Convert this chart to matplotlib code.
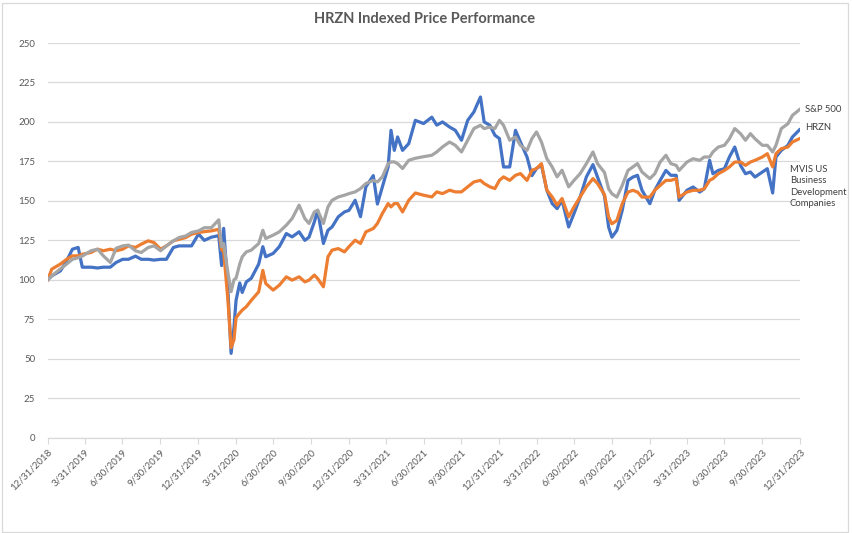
import matplotlib
matplotlib.use("Agg")
import matplotlib.pyplot as plt
from matplotlib.patches import Rectangle
import pandas as pd

plt.rcParams['font.family'] = ['Lato', 'DejaVu Sans']

# 数据：指数化价格（起点 = 100）
dates = [
    "2018-12-31", "2019-01-10", "2019-01-31", "2019-02-15", "2019-03-01", "2019-03-15",
    "2019-03-25", "2019-04-15", "2019-05-01", "2019-05-15", "2019-06-01", "2019-06-15",
    "2019-07-01", "2019-07-15", "2019-08-01", "2019-08-15", "2019-09-01", "2019-09-15",
    "2019-10-01", "2019-10-15", "2019-11-01", "2019-11-15", "2019-12-01", "2019-12-15",
    "2020-01-01", "2020-01-15", "2020-02-01", "2020-02-19", "2020-02-26", "2020-03-02",
    "2020-03-12", "2020-03-20", "2020-03-27", "2020-04-01", "2020-04-10", "2020-04-16",
    "2020-04-26", "2020-05-08", "2020-05-26", "2020-06-05", "2020-06-12", "2020-06-30",
    "2020-07-15", "2020-08-01", "2020-08-15", "2020-09-01", "2020-09-15", "2020-09-25",
    "2020-10-08", "2020-10-16", "2020-10-30", "2020-11-10", "2020-11-20", "2020-12-05",
    "2020-12-20", "2020-12-31", "2021-01-15", "2021-01-28", "2021-02-10", "2021-02-28",
    "2021-03-10", "2021-03-22", "2021-04-05", "2021-04-12", "2021-04-20", "2021-04-28",
    "2021-05-10", "2021-05-25", "2021-06-10", "2021-06-30", "2021-07-20", "2021-08-01",
    "2021-08-15", "2021-09-01", "2021-09-15", "2021-09-30", "2021-10-15", "2021-10-30",
    "2021-11-15", "2021-11-24", "2021-12-08", "2021-12-20", "2021-12-31", "2022-01-10",
    "2022-01-25", "2022-02-08", "2022-02-20", "2022-03-08", "2022-03-20", "2022-03-31",
    "2022-04-12", "2022-04-25", "2022-05-08", "2022-05-20", "2022-06-01", "2022-06-17",
    "2022-06-30", "2022-07-15", "2022-07-30", "2022-08-15", "2022-08-26", "2022-09-12",
    "2022-09-22", "2022-09-30", "2022-10-12", "2022-10-25", "2022-11-08", "2022-11-20",
    "2022-12-01", "2022-12-12", "2022-12-31", "2023-01-12", "2023-01-25", "2023-02-08",
    "2023-02-20", "2023-03-05", "2023-03-12", "2023-03-31", "2023-04-15", "2023-05-01",
    "2023-05-12", "2023-05-25", "2023-06-02", "2023-06-15", "2023-06-30", "2023-07-12",
    "2023-07-25", "2023-08-08", "2023-08-20", "2023-09-01", "2023-09-12", "2023-09-30",
    "2023-10-12", "2023-10-25", "2023-11-02", "2023-11-15", "2023-12-01", "2023-12-12",
    "2023-12-29",
]

hrzn = [
    100, 102.5, 105.7, 112, 119.4, 120.5,
    108, 108, 107.5, 108, 108, 111,
    113, 113, 115, 113, 113, 112.5,
    113, 113, 120.5, 121.5, 121.5, 121.5,
    129, 125, 127, 128, 109, 132.6,
    95, 53.4, 70, 87, 98, 92,
    98.7, 101, 110, 121, 114.6, 116.7,
    121, 129.3, 127.2, 130.4, 125, 127,
    136.7, 144, 123, 131.4, 133.5, 139.9,
    143, 144, 150.4, 140, 158.9, 166,
    148, 158.9, 171.5, 194.7, 182, 190.5,
    182, 186.3, 201, 199, 203, 198,
    200, 196.8, 194.7, 188.4, 201, 206.3,
    215.8, 200, 197.9, 191.6, 189.5, 171.5,
    171.5, 194.7, 187.3, 177.8, 166, 170.5,
    172.6, 156.8, 148.3, 145.1, 150.4, 133.5,
    142, 152.5, 165.2, 173, 165.2, 153,
    133.4, 127, 131.3, 144, 163, 165.1,
    166.2, 156.7, 148.2, 156.7, 163, 169.3,
    166.2, 166.2, 150.3, 156.7, 158.8, 155.6,
    157.7, 175.7, 167.2, 169.3, 170.4, 177.8,
    184.1, 172.5, 167.2, 168.3, 165.1, 168.3,
    170.4, 155, 177.8, 182, 185.2, 190.5,
    195,
]

sp500 = [
    100, 102.5, 107, 110, 113, 114,
    115, 118.4, 119.4, 115.2, 111, 120,
    121.5, 122, 118.4, 117.3, 120.5, 121.5,
    118.4, 121.5, 124.7, 126.8, 127.8, 130,
    131, 133, 133, 138, 121, 123,
    105, 92.5, 100, 101, 110, 114.6,
    117.7, 118.8, 123, 131.4, 126.2, 128.3,
    130.4, 134.6, 138.8, 147.3, 138.8, 135.7,
    143, 144.1, 135.7, 146.2, 150.4, 152.5,
    153.6, 154.6, 155.7, 157.8, 161, 163,
    162, 165.2, 173.6, 174.7, 174.7, 173.6,
    170.5, 175.7, 177, 178, 178.9, 181,
    184.2, 187.3, 185.2, 181, 188.4, 195.8,
    197.9, 195.8, 196.8, 195.8, 201, 197.9,
    188.4, 190.5, 185.2, 182, 189.5, 193.7,
    187.3, 176.8, 171.5, 165.2, 169.4, 158.9,
    163, 167.3, 173.6, 181, 173.6, 168,
    157.7, 154.5, 152.4, 159.8, 169.3, 171.5,
    173.6, 168.3, 164.1, 167.2, 174.6, 178.9,
    173.6, 172.5, 169.3, 174.6, 176.7, 175.7,
    177.8, 177.8, 181, 184.1, 185.2, 189.4,
    195.8, 192.6, 188.4, 192.6, 189.4, 185.2,
    185.2, 181, 185.2, 195.8, 198.9, 204.2,
    207.8,
]

mvis_bdc = [
    100, 106.8, 110, 113, 115.2, 115.2,
    116.2, 117.3, 119.4, 118.4, 119.4, 118.4,
    119.4, 121.5, 120.5, 122.6, 124.7, 123.6,
    119.4, 121.5, 124.7, 125.7, 126.8, 128.9,
    130, 130.5, 131, 132, 119, 118,
    88, 57, 62, 76, 79, 80.8,
    83, 87, 92.4, 106, 97.7, 93.5,
    96.6, 101.9, 99.8, 101.9, 98.7, 99.8,
    103, 100.8, 95.6, 114.6, 118.8, 119.8,
    117.7, 121, 125.1, 123, 130.4, 132.5,
    135.7, 142, 148.3, 146.2, 148.3, 148.3,
    143, 150.4, 155, 153.6, 152.5, 155.7,
    154.6, 156.8, 155.7, 155.7, 158.9, 162,
    163, 161, 158.9, 157.8, 163, 165.2,
    163, 166.2, 167.3, 163, 169.4, 170.5,
    173.6, 156.8, 152.5, 147.3, 151.5, 139.9,
    146.2, 152.5, 158.9, 164.1, 161, 154,
    139.7, 135.5, 137.6, 148.2, 155.6, 156.7,
    155.6, 152.4, 152.4, 156.7, 159.8, 163,
    163, 164.1, 152.4, 155.6, 156.7, 156.7,
    157.7, 163, 164.1, 167.2, 169.3, 171.5,
    174.6, 174.6, 172.5, 174.6, 175.7, 177.8,
    179.9, 171.5, 179.9, 183.1, 184.1, 187.3,
    189.4,
]

ytick_values = [0, 25, 50, 75, 100, 125, 150, 175, 200, 225, 250]

text_gray = '#595959'
grid_gray = '#D9D9D9'

x = pd.to_datetime(dates)

fig = plt.figure(figsize=(8.53, 5.33), dpi=100)
ax = fig.add_axes([0.0559, 0.1788, 0.8823, 0.7405])

# 画三条线（Excel 默认配色）
ax.plot(x, hrzn, color='#4472C4', linewidth=2.3, zorder=3)
ax.plot(x, mvis_bdc, color='#ED7D31', linewidth=2.3, zorder=4)
ax.plot(x, sp500, color='#A5A5A5', linewidth=2.3, zorder=5)

# 坐标轴
ax.set_ylim(0, 250)
ax.set_xlim(pd.Timestamp('2018-12-31'), pd.Timestamp('2023-12-31'))
ax.set_yticks(ytick_values)
ax.yaxis.grid(True, color=grid_gray, linewidth=0.9)
ax.set_axisbelow(True)
for side in ['top', 'right', 'left']:
    ax.spines[side].set_visible(False)
ax.spines['bottom'].set_color(grid_gray)
ax.spines['bottom'].set_linewidth(0.9)

ax.tick_params(axis='y', length=0, pad=9, labelsize=7, labelcolor=text_gray)

quarter_ends = pd.date_range('2018-12-31', '2023-12-31', freq='QE')
ax.set_xticks(quarter_ends)
ax.set_xticklabels([f"{d.month}/{d.day}/{d.year}" for d in quarter_ends],
                   rotation=45, ha='right', va='top', rotation_mode='anchor')
ax.tick_params(axis='x', length=4, width=0.8, color=grid_gray, pad=3,
               labelsize=7, labelcolor=text_gray)

# 标题
fig.text(0.498, 0.964, 'HRZN Indexed Price Performance', ha='center', va='center',
         fontsize=10.5, fontweight='bold', color=text_gray)

# 右侧系列标签
fig.text(805 / 853, 1 - 109 / 533, 'S&P 500', ha='left', va='center', fontsize=6.8, color='#404040')
fig.text(805 / 853, 1 - 127 / 533, 'HRZN', ha='left', va='center', fontsize=6.8, color='#404040')
fig.text(790 / 853, 1 - 165 / 533, 'MVIS US\nBusiness\nDevelopment\nCompanies',
         ha='left', va='top', fontsize=6.8, color='#404040', linespacing=1.35)

# 图表外框
fig.patches.append(Rectangle((2 / 853, 1.5 / 533), 846 / 853, 529 / 533,
                             transform=fig.transFigure, fill=False,
                             edgecolor=grid_gray, linewidth=0.9))

fig.savefig('out.png', dpi=100)
